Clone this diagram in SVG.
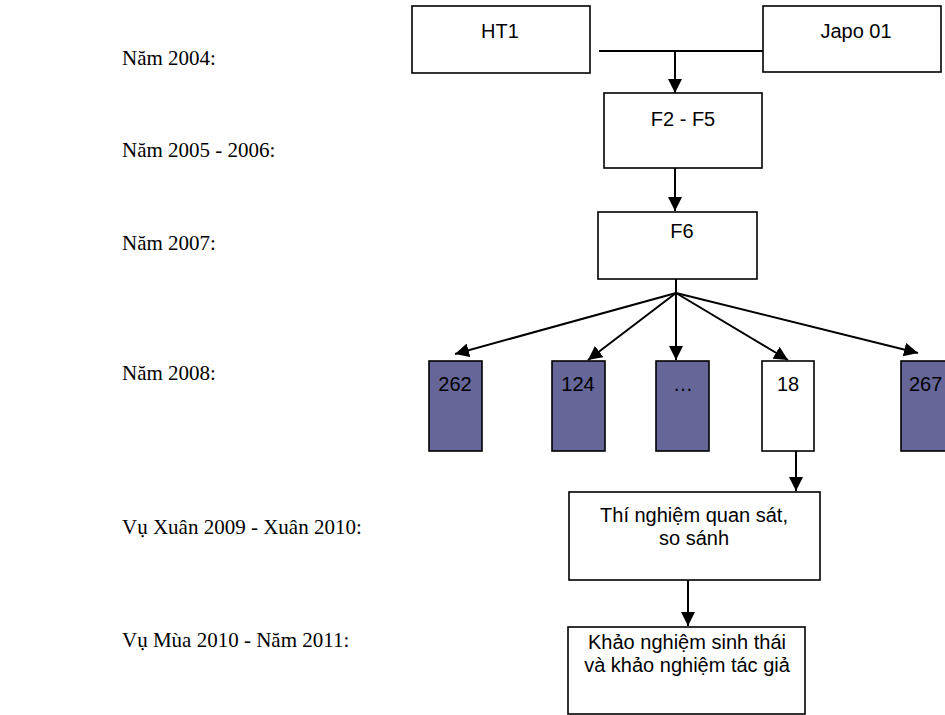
<svg xmlns="http://www.w3.org/2000/svg" width="945" height="715" viewBox="0 0 945 715">
<style>
.lbl{font-family:"Liberation Serif","Times New Roman",serif;font-size:21px;fill:#000}
.box{fill:#fff;stroke:#000;stroke-width:1.6}
.dark{fill:#666699;stroke:#000;stroke-width:1.6}
.t{font-family:"Liberation Sans",Arial,sans-serif;font-size:20px;fill:#000;text-anchor:middle}
.c{stroke:#000;stroke-width:2;fill:none}
</style>
<defs>
<marker id="ah" viewBox="0 0 10 10" refX="10" refY="5" markerWidth="7" markerHeight="7" markerUnits="strokeWidth" orient="auto">
<path d="M0,0 L10,5 L0,10 Z" fill="#000"/>
</marker>
</defs>
<g id="labels">
<text class="lbl" x="122" y="65">Năm 2004:</text>
<text class="lbl" x="122" y="157">Năm 2005 - 2006:</text>
<text class="lbl" x="122" y="250">Năm 2007:</text>
<text class="lbl" x="122" y="380">Năm 2008:</text>
<text class="lbl" x="122" y="534">Vụ Xuân 2009 - Xuân 2010:</text>
<text class="lbl" x="122" y="647">Vụ Mùa 2010 - Năm 2011:</text>
</g>
<g id="ht1"><rect class="box" x="412" y="6" width="178" height="67"/><text class="t" x="500" y="38">HT1</text></g>
<g id="japo"><rect class="box" x="763" y="6" width="178" height="66"/><text class="t" x="856" y="38">Japo 01</text></g>
<g id="f2f5"><rect class="box" x="604" y="93" width="158" height="75"/><text class="t" x="683" y="126">F2 - F5</text></g>
<g id="f6"><rect class="box" x="598" y="212" width="159" height="67"/><text class="t" x="682" y="238">F6</text></g>
<g id="n262"><rect class="dark" x="429" y="361" width="53" height="90"/><text class="t" x="455" y="391">262</text></g>
<g id="n124"><rect class="dark" x="552" y="361" width="53" height="90"/><text class="t" x="578" y="391">124</text></g>
<g id="ndots"><rect class="dark" x="656" y="361" width="53" height="90"/><text class="t" x="683" y="391">…</text></g>
<g id="n18"><rect class="box" x="762" y="361" width="52" height="90"/><text class="t" x="788" y="391">18</text></g>
<g id="n267"><rect class="dark" x="901" y="361" width="53" height="90"/><text class="t" x="909" y="391" style="text-anchor:start">267</text></g>
<g id="thi"><rect class="box" x="569" y="492" width="251" height="88"/><text class="t" x="694" y="522">Thí nghiệm quan sát,</text><text class="t" x="694" y="545">so sánh</text></g>
<g id="khao"><rect class="box" x="568" y="627" width="237" height="87"/><text class="t" x="687" y="649">Khảo nghiệm sinh thái</text><text class="t" x="687" y="672">và khảo nghiệm tác giả</text></g>
<g id="connectors">
<line class="c" x1="599" y1="51" x2="763" y2="51"/>
<line class="c" x1="675" y1="51" x2="675" y2="93" marker-end="url(#ah)"/>
<line class="c" x1="675" y1="168" x2="675" y2="211" marker-end="url(#ah)"/>
<line class="c" x1="676" y1="279" x2="676" y2="293"/>
<line class="c" x1="676" y1="293" x2="455" y2="354" marker-end="url(#ah)"/>
<line class="c" x1="676" y1="293" x2="588" y2="360" marker-end="url(#ah)"/>
<line class="c" x1="676" y1="293" x2="676" y2="360" marker-end="url(#ah)"/>
<line class="c" x1="676" y1="293" x2="788" y2="360" marker-end="url(#ah)"/>
<line class="c" x1="676" y1="293" x2="918" y2="353" marker-end="url(#ah)"/>
<line class="c" x1="796" y1="451" x2="796" y2="491" marker-end="url(#ah)"/>
<line class="c" x1="688" y1="580" x2="688" y2="626" marker-end="url(#ah)"/>
</g>
</svg>
